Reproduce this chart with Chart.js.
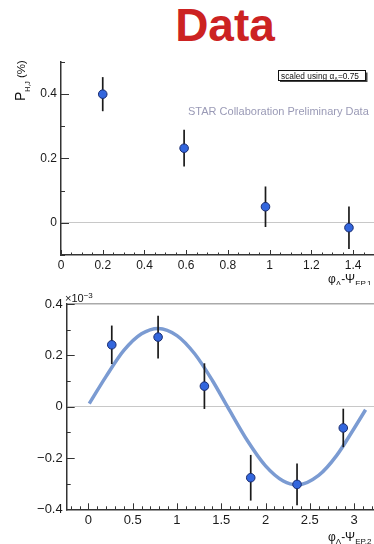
<!DOCTYPE html>
<html><head><meta charset="utf-8">
<script src="https://cdn.jsdelivr.net/npm/chart.js@4.4.0/dist/chart.umd.min.js"></script>
<style>
html,body{margin:0;padding:0;background:#fff;overflow:hidden;width:374px;height:544px;position:relative;}
#title{position:absolute;left:0;top:2px;width:450px;text-align:center;font:bold 46px "Liberation Sans",Arial,sans-serif;line-height:46px;color:#cc2222;}
#c1{position:absolute;left:0;top:0;}
#c2{position:absolute;left:0;top:285px;}
</style></head>
<body>
<div id="title">Data</div>
<canvas id="c1" width="374" height="285"></canvas>
<canvas id="c2" width="374" height="259"></canvas>
<script>
// ---- top panel data ----
const xTop = [0.20, 0.59, 0.98, 1.38];
const yTop = [0.400, 0.232, 0.050, -0.015];
const errTop = [0.053, 0.057, 0.063, 0.066];
const xTicksTop = [0, 0.2, 0.4, 0.6, 0.8, 1, 1.2, 1.4];
const yTicksTop = [0, 0.2, 0.4];

// ---- bottom panel data ----
const xBot = [0.264, 0.787, 1.310, 1.833, 2.356, 2.878];
const yBot = [0.241, 0.271, 0.080, -0.277, -0.303, -0.083];
const errBot = [0.075, 0.083, 0.089, 0.089, 0.081, 0.075];
const curveX = [0.01, 0.2, 0.4, 0.6, 0.79, 1.0, 1.2, 1.4, 1.57, 1.8, 2.0, 2.2, 2.36, 2.6, 2.8, 3.0, 3.13];
const curveY = [0.012, 0.118, 0.219, 0.284, 0.305, 0.277, 0.206, 0.102, 0.0, -0.135, -0.231, -0.290, -0.305, -0.268, -0.192, -0.085, -0.012];
const xTicksBot = [0, 0.5, 1, 1.5, 2, 2.5, 3];
const yTicksBot = [-0.4, -0.2, 0, 0.2, 0.4];

const FONT = '"Liberation Sans", Arial, Helvetica, sans-serif';
const AXIS = '#333';
const fmt = v => String(v).replace('-', '\u2212');

function rich(ctx, parts, x, y, angle) {
  ctx.save();
  ctx.translate(x, y);
  if (angle) ctx.rotate(angle);
  ctx.textBaseline = 'alphabetic';
  ctx.textAlign = 'left';
  let cx = 0;
  for (const p of parts) {
    ctx.font = (p.bold ? 'bold ' : '') + p.size + 'px ' + FONT;
    ctx.fillStyle = p.color || '#111';
    ctx.fillText(p.t, cx + (p.dx || 0), p.dy || 0);
    if (!p.noAdvance) cx += ctx.measureText(p.t).width + (p.dx || 0);
  }
  ctx.restore();
}

function ticksX(chart, majors, step, majLen, minLen) {
  const s = chart.scales.x, a = chart.chartArea, ctx = chart.ctx;
  ctx.save(); ctx.strokeStyle = AXIS; ctx.lineWidth = 1;
  const k0 = Math.ceil(s.min / step - 1e-9), k1 = Math.floor(s.max / step + 1e-9);
  for (let k = k0; k <= k1; k++) {
    const v = k * step;
    const isMaj = majors.some(m => Math.abs(m - v) < 1e-6);
    const px = Math.round(s.getPixelForValue(v)) + 0.5;
    ctx.beginPath(); ctx.moveTo(px, a.bottom); ctx.lineTo(px, a.bottom - (isMaj ? majLen : minLen)); ctx.stroke();
  }
  ctx.restore();
}
function ticksY(chart, majors, step, majLen, minLen) {
  const s = chart.scales.y, a = chart.chartArea, ctx = chart.ctx;
  ctx.save(); ctx.strokeStyle = AXIS; ctx.lineWidth = 1;
  const k0 = Math.ceil(s.min / step - 1e-9), k1 = Math.floor(s.max / step + 1e-9);
  for (let k = k0; k <= k1; k++) {
    const v = k * step;
    const isMaj = majors.some(m => Math.abs(m - v) < 1e-6);
    const py = Math.round(s.getPixelForValue(v)) + 0.5;
    ctx.beginPath(); ctx.moveTo(a.left, py); ctx.lineTo(a.left + (isMaj ? majLen : minLen), py); ctx.stroke();
  }
  ctx.restore();
}
function errorBars(chart, xs, ys, es) {
  const sx = chart.scales.x, sy = chart.scales.y, ctx = chart.ctx;
  ctx.save(); ctx.strokeStyle = '#1a1a1a'; ctx.lineWidth = 1.7;
  for (let i = 0; i < xs.length; i++) {
    const px = sx.getPixelForValue(xs[i]);
    ctx.beginPath();
    ctx.moveTo(px, sy.getPixelForValue(ys[i] - es[i]));
    ctx.lineTo(px, sy.getPixelForValue(ys[i] + es[i]));
    ctx.stroke();
  }
  ctx.restore();
}

const pointStyle = {
  pointRadius: 4.3, pointHoverRadius: 4.3,
  pointBackgroundColor: '#3366dd', pointBorderColor: '#1a2c6e', pointBorderWidth: 1,
  showLine: false
};

function scaleX(min, max, ticks, h, size, pad) {
  return {
    type: 'linear', min, max,
    afterBuildTicks: s => { s.ticks = ticks.map(v => ({ value: v })); },
    afterFit: s => { s.height = h; s.paddingLeft = 0; s.paddingRight = 0; },
    ticks: { font: { family: FONT, size }, color: '#1a1a1a', padding: pad, maxRotation: 0, autoSkip: false, callback: v => fmt(v) },
    grid: { drawOnChartArea: false, drawTicks: false },
    border: { display: true, color: AXIS, width: 1.5 }
  };
}
function scaleY(min, max, ticks, w, size, gridColor) {
  return {
    type: 'linear', min, max,
    afterBuildTicks: s => { s.ticks = ticks.map(v => ({ value: v })); },
    afterFit: s => { s.width = w; s.paddingTop = 0; s.paddingBottom = 0; },
    ticks: { font: { family: FONT, size }, color: '#1a1a1a', padding: 4, autoSkip: false, callback: v => fmt(v) },
    grid: { drawTicks: false, color: gridColor, lineWidth: c => (c.tick && Math.abs(c.tick.value) > 0.3 ? 1.5 : 1) },
    border: { display: true, color: AXIS, width: 1.5 }
  };
}

// ---- top chart ----
new Chart(document.getElementById('c1'), {
  type: 'scatter',
  data: { datasets: [{ data: xTop.map((x, i) => ({ x, y: yTop[i] })), ...pointStyle }] },
  options: {
    responsive: false, animation: false, events: [],
    layout: { autoPadding: false, padding: { top: 62, left: 0, right: 0, bottom: 0 } },
    plugins: { legend: { display: false }, tooltip: { enabled: false } },
    scales: {
      x: scaleX(0, 1.5, xTicksTop, 30, 12, 3),
      y: scaleY(-0.1, 0.5, yTicksTop, 61, 12, c => (c.tick && c.tick.value === 0 ? '#c8c8c8' : 'rgba(0,0,0,0)'))
    }
  },
  plugins: [{
    id: 'deco1',
    beforeDatasetDraw(chart, args) { if (args.index === 0) errorBars(chart, xTop, yTop, errTop); },
    afterDraw(chart) {
      const ctx = chart.ctx;
      ticksX(chart, xTicksTop, 0.05, 5, 2.5);
      ticksY(chart, yTicksTop, 0.1, 8, 4);
      // y title
      rich(ctx, [
        { t: 'P', size: 14 },
        { t: 'H,J', size: 7, dy: 5 },
        { t: ' (%)', size: 11.5 }
      ], 25, 101, -Math.PI / 2);
      // x title
      rich(ctx, [
        { t: '\u03c6', size: 12 },
        { t: '\u039b', size: 8, dy: 3 },
        { t: '-\u03a8', size: 12 },
        { t: 'EP,1', size: 8, dy: 3 }
      ], 328, 283, 0);
      // STAR text
      rich(ctx, [{ t: 'STAR Collaboration Preliminary Data', size: 11, color: '#9a9ab6' }], 188, 115, 0);
      // legend box
      ctx.save();
      ctx.fillStyle = '#444'; ctx.fillRect(280, 72.5, 87.5, 9.5);
      ctx.fillStyle = '#fff'; ctx.fillRect(278, 70.5, 87.5, 10);
      ctx.strokeStyle = '#111'; ctx.lineWidth = 1; ctx.strokeRect(278.5, 70.5, 87, 10);
      ctx.restore();
      rich(ctx, [
        { t: 'scaled using \u03b1', size: 8.3 },
        { t: '\u039b', size: 5.5, dy: 2 },
        { t: '=0.75', size: 8.3 }
      ], 281, 78.8, 0);
    }
  }]
});

// ---- bottom chart ----
new Chart(document.getElementById('c2'), {
  type: 'scatter',
  data: {
    datasets: [
      { data: xBot.map((x, i) => ({ x, y: yBot[i] })), ...pointStyle },
      {
        data: curveX.map((x, i) => ({ x, y: curveY[i] })), showLine: true, pointRadius: 0,
        borderColor: '#7b9bd2', borderWidth: 3.5, cubicInterpolationMode: 'monotone', fill: false
      }
    ]
  },
  options: {
    responsive: false, animation: false, events: [],
    layout: { autoPadding: false, padding: { top: 19, left: 0, right: 0, bottom: 0 } },
    plugins: { legend: { display: false }, tooltip: { enabled: false } },
    scales: {
      x: scaleX(-0.245, 3.225, xTicksBot, 34.7, 13, 3),
      y: scaleY(-0.4, 0.4, yTicksBot, 66.7, 13, c => (c.tick && c.tick.value === 0 ? '#c8c8c8' : (c.tick && c.tick.value === 0.4 ? '#aaaaaa' : 'rgba(0,0,0,0)')))
    }
  },
  plugins: [{
    id: 'deco2',
    beforeDatasetDraw(chart, args) { if (args.index === 0) errorBars(chart, xBot, yBot, errBot); },
    afterDraw(chart) {
      const ctx = chart.ctx;
      ticksX(chart, xTicksBot, 0.1, 6, 3);
      ticksY(chart, yTicksBot, 0.1, 8, 4);
      // y title  <cos theta_p^*>
      rich(ctx, [
        { t: '\u27e8cos\u03b8', size: 15 },
        { t: 'p', size: 10, dy: 4, noAdvance: true },
        { t: '*', size: 11, dy: -9 },
        { t: '\u27e9', size: 15, dx: 1 }
      ], 30, 353, -Math.PI / 2);
      // x10^-3
      rich(ctx, [
        { t: '\u00d710', size: 11 },
        { t: '\u22123', size: 8, dy: -4 }
      ], 65, 17, 0);
      // x title
      rich(ctx, [
        { t: '\u03c6', size: 12 },
        { t: '\u039b', size: 8, dy: 3 },
        { t: '-\u03a8', size: 12 },
        { t: 'EP,2', size: 8, dy: 3 }
      ], 328, 256, 0);
    }
  }]
});
</script>
</body></html>
